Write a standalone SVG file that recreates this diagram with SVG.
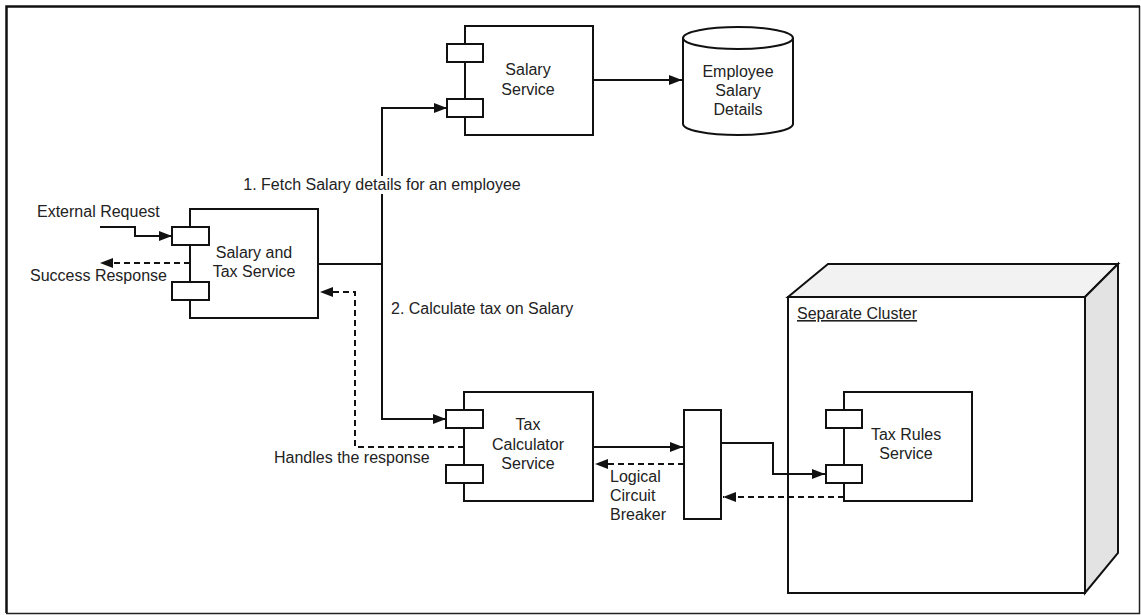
<svg xmlns="http://www.w3.org/2000/svg" width="1141" height="615" viewBox="0 0 1141 615">
  <style>
    text { font-family: "Liberation Sans", Arial, sans-serif; font-size: 16px; fill: #222; }
    .c { text-anchor: middle; }
    .box { fill: #fff; stroke: #111; stroke-width: 2; }
    .port { fill: #fff; stroke: #111; stroke-width: 2; }
    .line { fill: none; stroke: #111; stroke-width: 2; }
    .dash { fill: none; stroke: #111; stroke-width: 2; stroke-dasharray: 6 4; }
  </style>
  <defs>
    <marker id="arrow" markerUnits="userSpaceOnUse" markerWidth="14" markerHeight="12" refX="13" refY="6" orient="auto">
      <path d="M0,1 L13,6 L0,11 Z" fill="#111"/>
    </marker>
  </defs>

  <rect width="1141" height="615" fill="#fff"/>
  <!-- page frame -->
  <path d="M6,613.5 H1139.5 V6" fill="none" stroke="#222" stroke-width="1.5"/>
  <path d="M6.5,613 V6.5 H1140" fill="none" stroke="#111" stroke-width="2.5"/>

  <!-- deployment node -->
  <g id="separate-cluster">
    <path d="M788,297 L828,264 H1118 L1085,297 Z" fill="#f2f2f2" stroke="#111" stroke-width="2"/>
    <path d="M1085,297 L1118,264 V553 L1085,593 Z" fill="#e3e3e3" stroke="#111" stroke-width="2"/>
    <rect x="788" y="297" width="297" height="296" class="box"/>
    <text x="797" y="319" text-decoration="underline">Separate Cluster</text>
  </g>

  <g id="salary-and-tax-service">
    <rect x="190" y="209" width="128" height="109" class="box"/>
    <rect x="172" y="227" width="37" height="18" class="port"/>
    <rect x="172" y="282" width="37" height="18" class="port"/>
    <text x="254" y="258" class="c">Salary and</text>
    <text x="254" y="277" class="c">Tax Service</text>
  </g>

  <g id="salary-service">
    <rect x="465" y="26" width="128" height="109" class="box"/>
    <rect x="447" y="44" width="36" height="18" class="port"/>
    <rect x="447" y="99" width="36" height="18" class="port"/>
    <text x="528" y="75" class="c">Salary</text>
    <text x="528" y="95" class="c">Service</text>
  </g>

  <g id="employee-salary-details">
    <path d="M683,38 V124 A55,11 0 0 0 793,124 V38" fill="#fff" stroke="#111" stroke-width="2"/>
    <ellipse cx="738" cy="38" rx="55" ry="11" fill="#fff" stroke="#111" stroke-width="2"/>
    <text x="738" y="77" class="c">Employee</text>
    <text x="738" y="96" class="c">Salary</text>
    <text x="738" y="115" class="c">Details</text>
  </g>

  <g id="tax-calculator-service">
    <rect x="464" y="392" width="129" height="109" class="box"/>
    <rect x="446" y="410" width="37" height="18" class="port"/>
    <rect x="446" y="465" width="37" height="18" class="port"/>
    <text x="528" y="430" class="c">Tax</text>
    <text x="528" y="450" class="c">Calculator</text>
    <text x="528" y="469" class="c">Service</text>
  </g>

  <g id="circuit-breaker">
    <rect x="684" y="410" width="37" height="109" class="box"/>
    <text x="610" y="482">Logical</text>
    <text x="610" y="501">Circuit</text>
    <text x="610" y="520">Breaker</text>
  </g>

  <g id="tax-rules-service">
    <rect x="844" y="392" width="128" height="109" class="box"/>
    <rect x="826" y="410" width="36" height="18" class="port"/>
    <rect x="826" y="465" width="36" height="18" class="port"/>
    <text x="906" y="440" class="c">Tax Rules</text>
    <text x="906" y="459" class="c">Service</text>
  </g>

  <g id="connectors">
    <path d="M100,227 H135 V236 H172" class="line" marker-end="url(#arrow)"/>
    <text x="37" y="217">External Request</text>
    <path d="M190,263 H100" class="dash" marker-end="url(#arrow)"/>
    <text x="30" y="281">Success Response</text>

    <path d="M318,264 H382" class="line"/>
    <path d="M382,264 V108 H447" class="line" marker-end="url(#arrow)"/>
    <path d="M382,264 V419 H446" class="line" marker-end="url(#arrow)"/>
    <rect x="240" y="176" width="286" height="18" fill="#fff"/>
    <text x="382" y="190" class="c">1. Fetch Salary details for an employee</text>
    <text x="391" y="314">2. Calculate tax on Salary</text>

    <path d="M593,80 H682" class="line" marker-end="url(#arrow)"/>

    <path d="M464,447 H355 V292 H320" class="dash" marker-end="url(#arrow)"/>
    <text x="274" y="463">Handles the response</text>

    <path d="M593,447 H683" class="line" marker-end="url(#arrow)"/>
    <path d="M684,464 H595" class="dash" marker-end="url(#arrow)"/>

    <path d="M721,443 H773 V474 H825" class="line" marker-end="url(#arrow)"/>
    <path d="M844,497 H723" class="dash" marker-end="url(#arrow)"/>
  </g>
</svg>
